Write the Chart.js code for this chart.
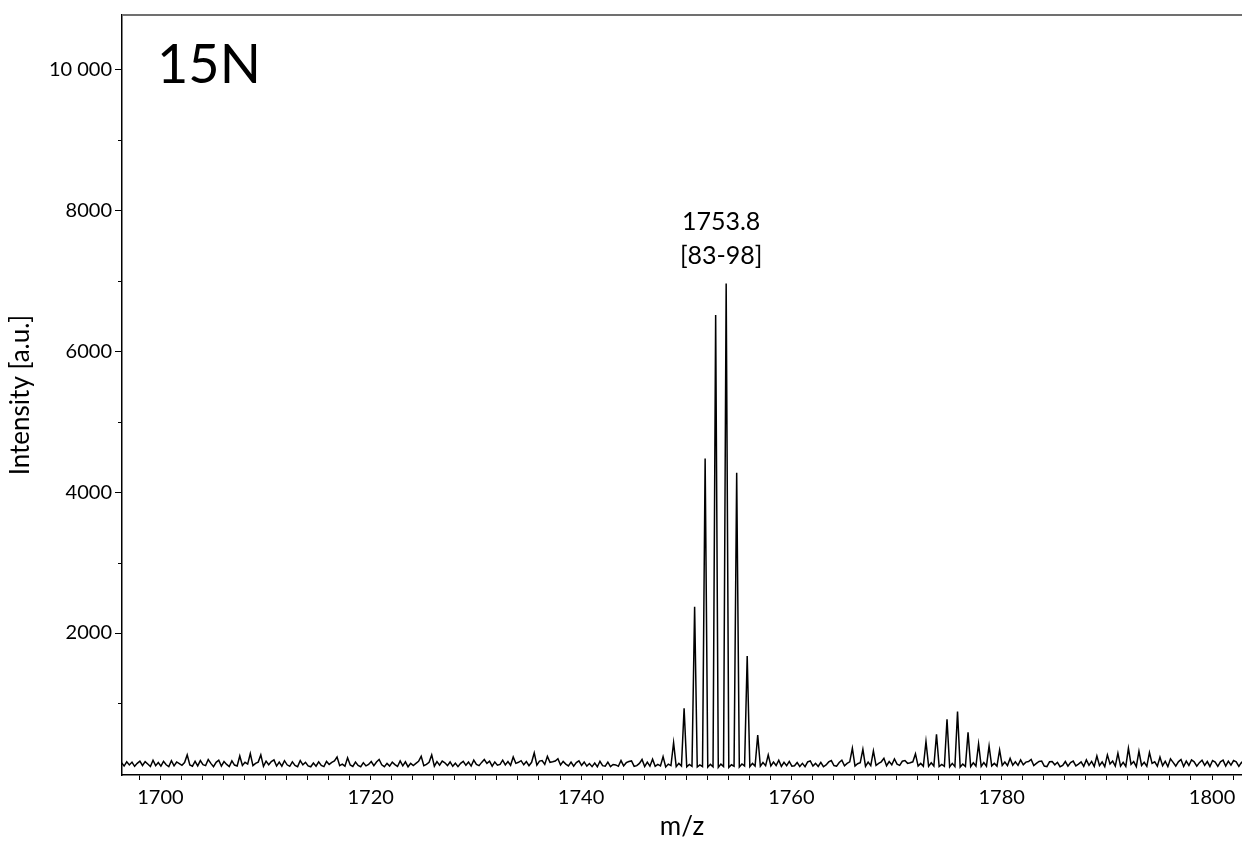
<!DOCTYPE html>
<html>
<head>
<meta charset="utf-8">
<script src="https://cdn.jsdelivr.net/npm/chart.js@4.4.1/dist/chart.umd.min.js"></script>
<style>
  html, body { margin: 0; padding: 0; background: #fff; }
  #wrap { width: 1242px; height: 842px; position: relative; }
</style>
</head>
<body>
<div id="wrap"><canvas id="spectrum"></canvas></div>
<script>
// MALDI trace, sampled every 0.25 m/z starting at 1696.3 (one group of 4 per m/z unit)
const mzStart = 1696.3;
const mzStep = 0.25;
const intensity = [
  160, 112, 172, 128,   168, 108, 150, 182,   120, 175, 140, 106,   195, 118, 162, 110,
  178, 130, 104, 188,   115, 170, 148, 122,   162, 270, 128, 110,   180, 115, 190, 132,
  118, 205, 150, 104,   165, 195, 112, 176,   135, 104, 185, 126,   112, 255, 120, 165,
  140, 290, 118, 150,   168, 270, 108, 182,   130, 176, 200, 112,   168, 110, 188, 130,
  108, 172, 122, 104,   190, 130, 165, 115,   102, 155, 110, 172,   120, 104, 178, 135,
  165, 185, 240, 118,   140, 110, 230, 128,   106, 168, 120, 102,   160, 114, 135, 176,
  118, 170, 205, 130,   104, 150, 112, 168,   132, 106, 185, 115,   172, 102, 150, 120,
  150, 180, 250, 116,   135, 165, 270, 110,   176, 125, 182, 158,   118, 170, 108, 152,
  104, 150, 178, 122,   168, 112, 195, 135,   118, 164, 205, 150,   182, 110, 170, 125,
  135, 195, 128, 176,   122, 240, 150, 165,   188, 130, 176, 116,   165, 300, 125, 182,
  190, 135, 250, 165,   172, 184, 215, 128,   178, 140, 114, 168,   110, 160, 185, 120,
  170, 112, 148, 104,   155, 102, 180, 118,   110, 168, 104, 135,   128, 108, 190, 114,
  160, 176, 185, 108,   118, 150, 205, 104,   168, 110, 210, 108,   135, 115, 245, 100,
  140, 118, 444, 104,   150, 112, 932, 100,   134, 108, 2373, 98,   128, 104, 4478, 96,
  136, 102, 6511, 94,   140, 106, 6960, 92,   130, 110, 4274, 98,   142, 114, 1674, 104,
  150, 112, 553, 110,   162, 118, 270, 114,   170, 120, 195, 108,   165, 118, 178, 110,
  115, 162, 106, 150,   104, 170, 185, 112,   150, 106, 165, 102,   128, 170, 190, 120,
  110, 162, 195, 115,   150, 172, 364, 112,   145, 160, 350, 108,   168, 118, 326, 120,
  150, 172, 222, 116,   176, 130, 213, 140,   122, 180, 190, 150,   160, 172, 284, 112,
  150, 110, 458, 108,   158, 112, 563, 104,   135, 108, 776, 100,   150, 104, 884, 98,
  140, 106, 591, 104,   158, 112, 425, 108,   162, 110, 397, 115,   150, 112, 340, 120,
  168, 118, 222, 125,   172, 122, 199, 130,   168, 176, 205, 118,   150, 178, 182, 112,
  104, 172, 176, 130,   165, 102, 120, 176,   110, 160, 182, 115,   140, 172, 108, 200,
  122, 178, 108, 255,   118, 170, 104, 270,   140, 182, 112, 294,   110, 165, 106, 364,
  135, 176, 104, 322,   120, 165, 108, 305,   150, 172, 110, 240,   118, 180, 104, 215,
  165, 112, 172, 205,   106, 182, 120, 200,   172, 110, 160, 195,   122, 176, 106, 190,
  168, 108, 172, 195,   112, 182, 125, 190,   172, 108, 165, 130
];

const xRange = [1696.35, 1802.85];
const yRange = [-15, 10770];

const xLabelValues = [1700, 1720, 1740, 1760, 1780, 1800];
const xMinorStep = 2;
const yTickValues = [2000, 4000, 6000, 8000, 10000];
const yTickLabels = ['2000', '4000', '6000', '8000', '10 000'];
const yMinorValues = [1000, 3000, 5000, 7000, 9000];

const peakMz = 1753.8;
const peakText = ['1753.8', '[83-98]'];
const panelText = '15N';

const points = intensity.map((v, i) => ({ x: +(mzStart + i * mzStep).toFixed(2), y: v }));
const peakValue = intensity[Math.round((peakMz - mzStart) / mzStep)];

Chart.defaults.font.family = 'Lato, sans-serif';
Chart.defaults.color = '#000';

const extras = {
  id: 'extras',
  afterDraw(chart) {
    const { ctx, chartArea: a, scales: { x, y } } = chart;
    ctx.save();
    // top frame line
    ctx.strokeStyle = '#707070';
    ctx.lineWidth = 2;
    ctx.beginPath();
    ctx.moveTo(a.left, a.top);
    ctx.lineTo(a.right, a.top);
    ctx.stroke();

    // short minor ticks on the intensity axis
    ctx.strokeStyle = '#000';
    ctx.lineWidth = 1;
    yMinorValues.forEach(v => {
      const py = Math.round(y.getPixelForValue(v)) + 0.5;
      ctx.beginPath();
      ctx.moveTo(a.left - 4, py);
      ctx.lineTo(a.left, py);
      ctx.stroke();
    });

    // peak annotation
    ctx.fillStyle = '#000';
    ctx.font = '25px Lato, sans-serif';
    ctx.textAlign = 'center';
    ctx.textBaseline = 'alphabetic';
    const px = x.getPixelForValue(peakMz) - 5;
    const top = y.getPixelForValue(peakValue);
    ctx.fillText(peakText[1], px, top - 19);
    ctx.fillText(peakText[0], px, top - 53);

    // panel label
    ctx.font = '54px Lato, sans-serif';
    ctx.textAlign = 'left';
    ctx.fillText(panelText, a.left + 35, a.top + 68);
    ctx.restore();
  }
};

new Chart(document.getElementById('spectrum').getContext('2d'), {
  type: 'line',
  data: {
    datasets: [{
      data: points,
      borderColor: '#000',
      borderWidth: 1.5,
      pointRadius: 0,
      tension: 0,
      fill: false
    }]
  },
  options: {
    responsive: true,
    maintainAspectRatio: false,
    animation: false,
    layout: { padding: { top: 15, right: 0, left: 0, bottom: 0 } },
    plugins: { legend: { display: false }, tooltip: { enabled: false } },
    scales: {
      x: {
        type: 'linear',
        min: xRange[0],
        max: xRange[1],
        afterBuildTicks: scale => {
          const ticks = [];
          for (let v = Math.ceil(xRange[0] / xMinorStep) * xMinorStep; v <= xRange[1]; v += xMinorStep) ticks.push({ value: v });
          scale.ticks = ticks;
        },
        afterFit: scale => { scale.height = 67; },
        ticks: {
          autoSkip: false,
          maxRotation: 0,
          padding: 6,
          font: { size: 20 },
          callback: v => xLabelValues.includes(v) ? String(v) : ''
        },
        grid: { drawOnChartArea: false, tickLength: 5, tickColor: '#000', tickWidth: 1 },
        border: { color: '#000', width: 1.5 },
        title: { display: true, text: 'm/z', font: { size: 26 }, padding: { top: 0, bottom: 0 } }
      },
      y: {
        min: yRange[0],
        max: yRange[1],
        afterBuildTicks: scale => { scale.ticks = yTickValues.map(v => ({ value: v })); },
        afterFit: scale => { scale.width = 122; },
        ticks: {
          padding: 3,
          font: { size: 20 },
          callback: v => yTickLabels[yTickValues.indexOf(v)]
        },
        grid: { drawOnChartArea: false, tickLength: 7, tickColor: '#000', tickWidth: 1 },
        border: { color: '#000', width: 1.5 },
        title: { display: true, text: 'Intensity [a.u.]', font: { size: 26 }, padding: { top: 5, bottom: 0 } }
      }
    }
  },
  plugins: [extras]
});
</script>
</body>
</html>
